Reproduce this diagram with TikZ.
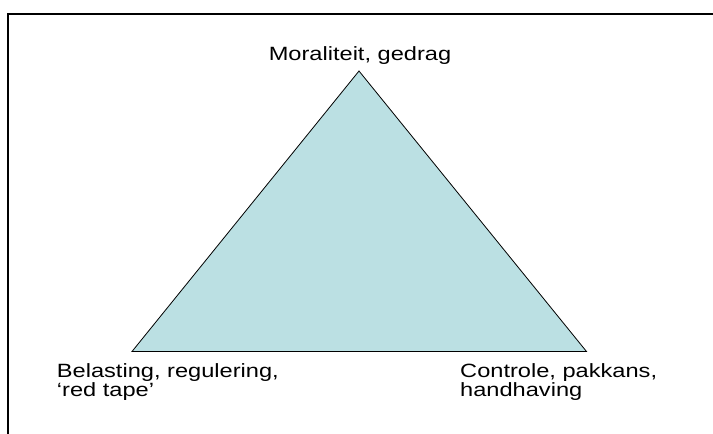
\documentclass[tikz,border=0pt]{standalone}
\usepackage{fontspec}
\setmainfont[FakeStretch=1.23]{Liberation Sans}
\definecolor{trifill}{HTML}{BBE0E3}
\begin{document}
\begin{tikzpicture}[x=1pt,y=-1pt,
  frame/.style={line width=2.4pt},
  tri/.style={draw=black,line width=0.8pt,fill=trifill,line join=miter},
  lbl/.style={inner sep=0pt,font=\fontsize{19.2}{19.2}\selectfont,align=left}]
\useasboundingbox (0,0) rectangle (713,434);
\coordinate (ftl) at (8,14);
\coordinate (ftr) at (713,14);
\coordinate (fbl) at (8,434);
\draw[frame] (ftr) -- (ftl) -- (fbl);
\coordinate (apex) at (359,71);
\coordinate (bl) at (132,351.5);
\coordinate (br) at (586.5,351.5);
\draw[tri] (apex) -- (bl) -- (br) -- cycle;
\node[lbl,anchor=base] (top) at (360,60.7) {Moraliteit, gedrag};
\node[lbl,anchor=base west] (left) at (56.7,396.5) {Belasting, regulering,\\‘red tape’};
\node[lbl,anchor=base west] (right) at (460,396.5) {Controle, pakkans,\\handhaving};
\end{tikzpicture}
\end{document}
